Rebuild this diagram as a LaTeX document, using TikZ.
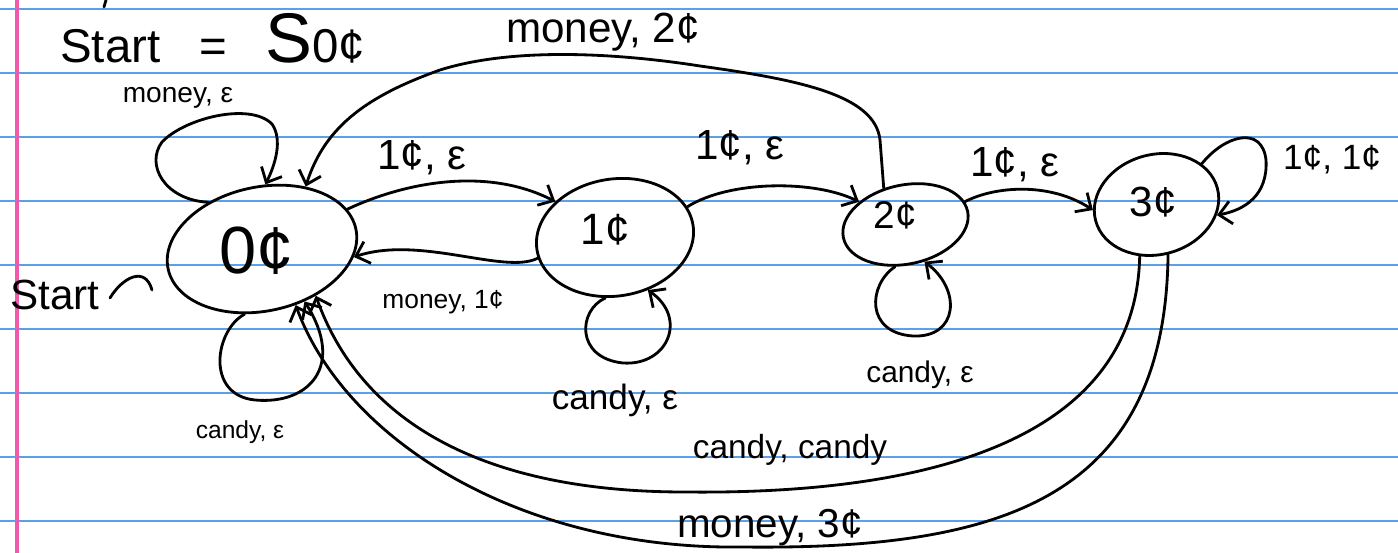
\documentclass[tikz,border=0pt]{standalone}
\usepackage{fontspec}
\setmainfont{Liberation Sans}
\usetikzlibrary{shapes.geometric,arrows.meta}
\definecolor{ruleblue}{RGB}{90,160,235}
\definecolor{marginpink}{RGB}{240,90,170}
\begin{document}
\begin{tikzpicture}[x=0.02cm,y=-0.02cm,
  ink/.style={line width=1.6pt, line cap=round, line join=round},
  arr/.style={ink,-{Straight Barb[length=7pt,width=13pt,line width=1.6pt]}},
  state/.style={draw, ellipse, ink, inner sep=0pt},
  lbl/.style={inner sep=0pt, font=\fontsize{#1pt}{#1pt}\selectfont},
]
\fill[white] (0,0) rectangle (1398,553);
\useasboundingbox (0,0) rectangle (1398,553);
\foreach \yy in {9,73,...,521} \draw[ruleblue, line width=1.1pt] (0,\yy) -- (1398,\yy);
\draw[marginpink, line width=1.8pt] (17,0) -- (17,553);

% title
\node[anchor=base west, inner sep=0pt] (ttl) at (60,63) {\fontsize{27pt}{30pt}\selectfont Start\hspace{22pt}=\hspace{22pt}{\fontsize{40pt}{44pt}\selectfont S}0¢};
\draw[ink] (106,0) -- (104,7);

% states
\node[state, rotate=12, minimum width=3.84cm, minimum height=2.48cm] (e0) at (262,249) {};
\node[state, rotate=9, minimum width=3.16cm, minimum height=2.34cm] (e1) at (615,237.5) {};
\node[state, rotate=12, minimum width=2.54cm, minimum height=1.58cm] (e2) at (905.5,224.5) {};
\node[state, rotate=15, minimum width=2.52cm, minimum height=2.0cm] (e3) at (1156.5,204.5) {};
\node[lbl=38] (t0) at (257,251) {0¢};
\node[lbl=25] (t1) at (605,230) {1¢};
\node[lbl=22] (t2) at (895,215) {2¢};
\node[lbl=24] (t3) at (1153,202) {3¢};

% start marker
\node[lbl=24] (l13) at (55,295) {Start};
\coordinate (s1) at (110,298);
\coordinate (s2) at (152,290);
\draw[ink] (s1) .. controls (122,278) and (145,265) .. (s2);

% transitions
\draw[arr] (e0.13) .. controls (410,180) and (490,168) .. (e1.140);
\draw[arr] (e1.186) .. controls (505,275) and (420,235) .. (e0.343);
\draw[arr] (e1.14) .. controls (730,180) and (815,180) .. (e2.142);
\draw[arr] (e2.109) -- (880,140) .. controls (875,95) and (800,80) .. (700,66)
   .. controls (610,52) and (510,48) .. (440,70)
   .. controls (370,95) and (325,125) .. (e0.43);
\draw[arr] (e2.9) .. controls (995,186) and (1050,182) .. (e3.170);
\draw[arr] (e3.27) .. controls (1225,135) and (1262,125) .. (1266,160)
   .. controls (1268,195) and (1245,210) .. (e3.335);
\draw[arr] (e0.127) .. controls (165,200) and (145,165) .. (162,142)
   .. controls (185,118) and (250,102) .. (272,124)
   .. controls (283,140) and (275,165) .. (e0.75);
\draw[arr] (e0.243) .. controls (215,330) and (205,395) .. (255,400)
   .. controls (310,405) and (345,365) .. (e0.297);
\draw[arr] (e1.252) .. controls (578,310) and (575,358) .. (623,363)
   .. controls (668,366) and (688,318) .. (e1.293);
\draw[arr] (e2.244) .. controls (868,285) and (865,333) .. (913,336)
   .. controls (958,338) and (962,290) .. (e2.285);
\draw[arr] (e3.237) .. controls (1136,430) and (950,495) .. (685,492)
   .. controls (480,492) and (360,420) .. (e0.307);
\draw[arr] (e3.268) .. controls (1165,500) and (1000,550) .. (742,547)
   .. controls (520,550) and (345,440) .. (e0.289);

% labels
\node[lbl=16] (l1) at (178,98) {money, ε};
\node[lbl=24] (l2) at (422,158) {1¢, ε};
\node[lbl=24] (l3) at (740,148) {1¢, ε};
\node[lbl=24] (l4) at (603,32) {money, 2¢};
\node[lbl=15] (l5) at (443,302) {money, 1¢};
\node[lbl=24] (l6) at (1015,165) {1¢, ε};
\node[lbl=20] (l7) at (1332,160) {1¢, 1¢};
\node[lbl=14] (l8) at (240,432) {candy, ε};
\node[lbl=20] (l9) at (615,400) {candy, ε};
\node[lbl=17] (l10) at (920,375) {candy, ε};
\node[lbl=19] (l11) at (790,450) {candy, candy};
\node[lbl=23] (l12) at (770,528) {money, 3¢};
\end{tikzpicture}
\end{document}
